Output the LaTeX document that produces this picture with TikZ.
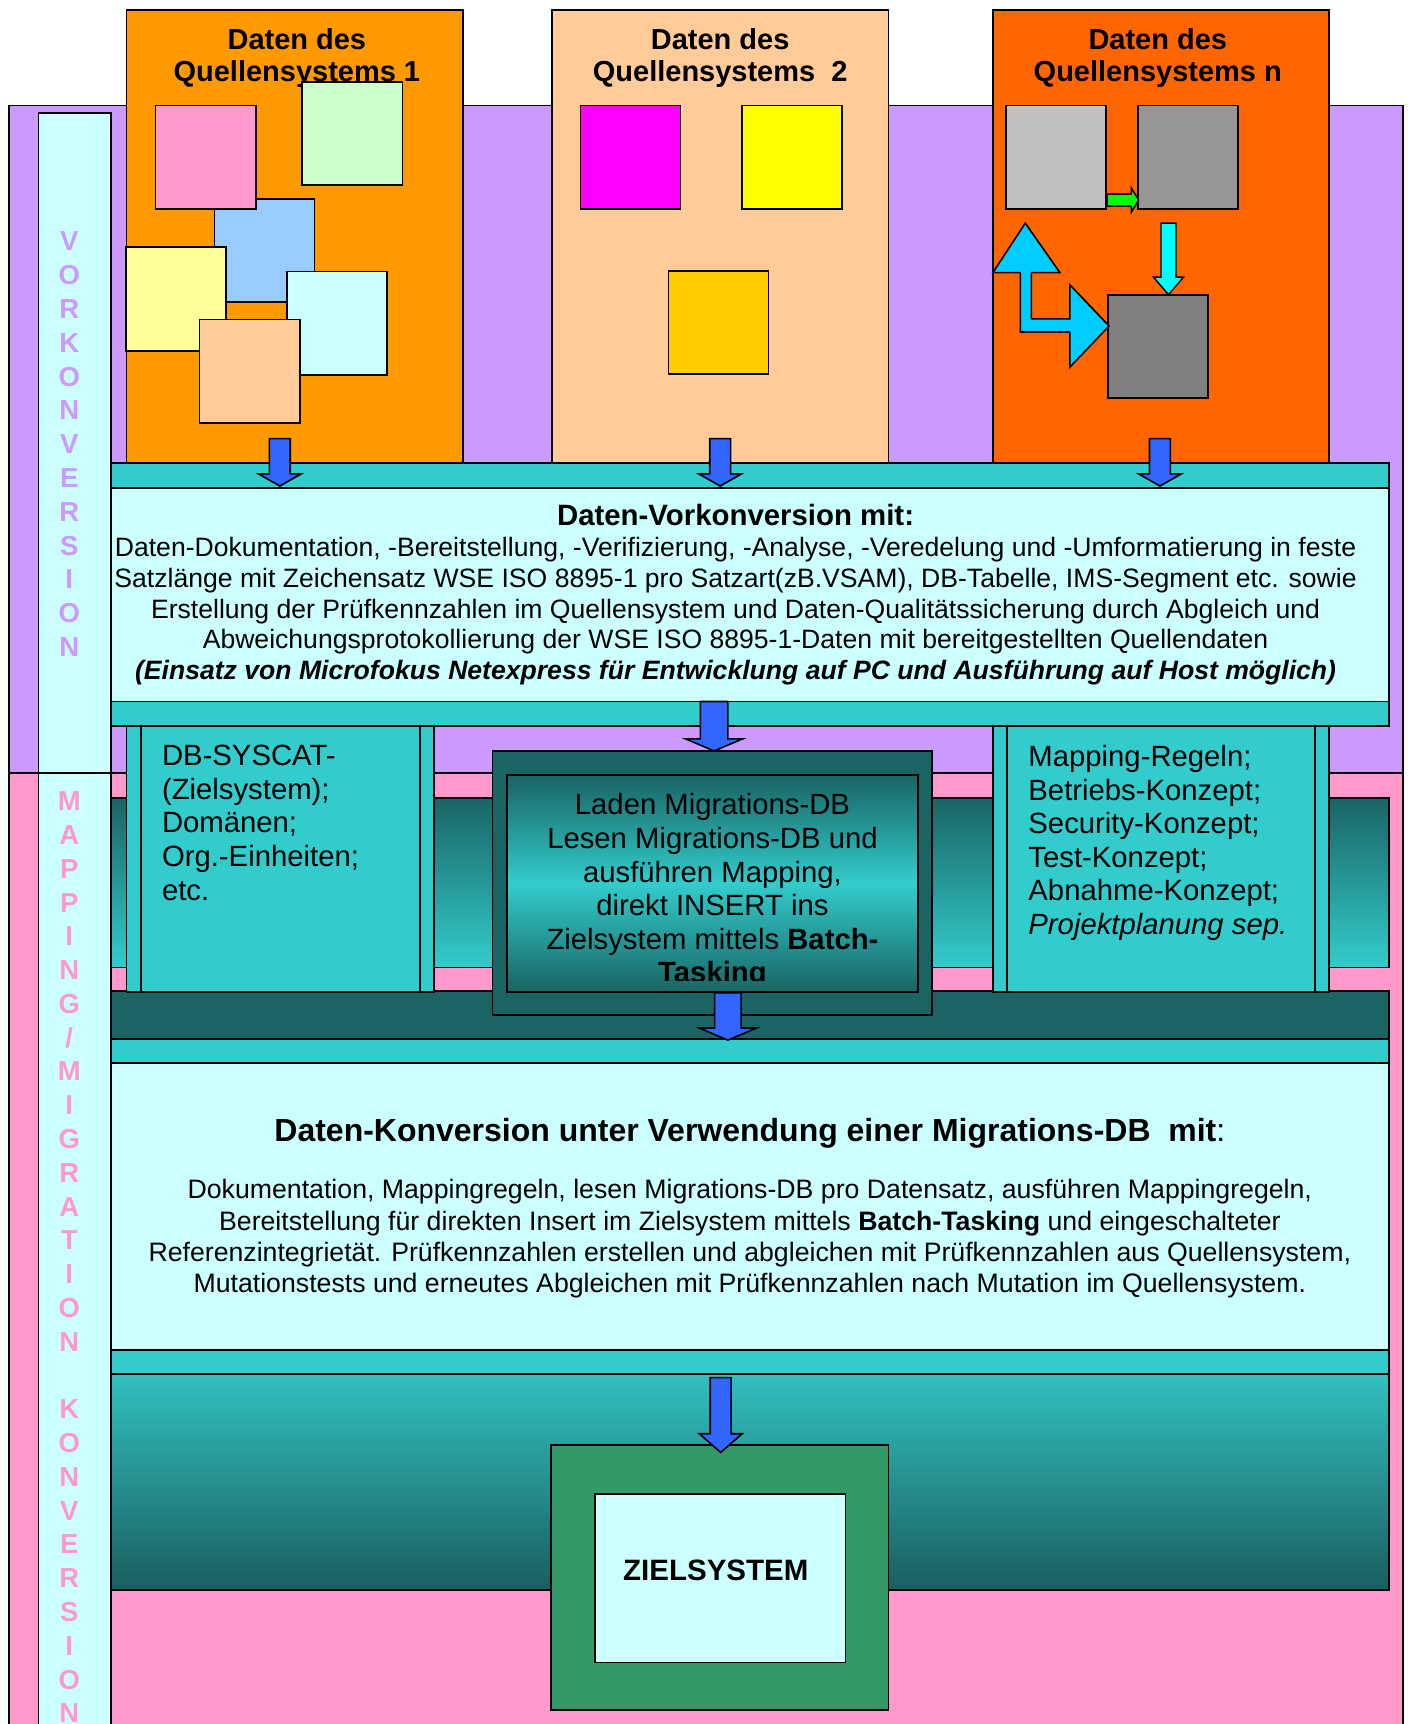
\documentclass[tikz,border=0pt]{standalone}
\usepackage{fontspec}
\setmainfont{Liberation Sans}
\usepackage{tikz}
\usepackage{xcolor}

\definecolor{vorlila}{HTML}{CC99FF}
\definecolor{mappink}{HTML}{FF99CC}
\definecolor{hellcyan}{HTML}{CCFFFF}
\definecolor{quelle1}{HTML}{FF9900}
\definecolor{quelle2}{HTML}{FFCC99}
\definecolor{quelle3}{HTML}{FF6600}
\definecolor{band}{HTML}{33CCCC}
\definecolor{dunkelteal}{HTML}{1A6464}
\definecolor{zielband}{HTML}{32C0C0}
\definecolor{zielbandunten}{HTML}{1A5E5E}
\definecolor{zielgruen}{HTML}{339966}
\definecolor{arrowblue}{HTML}{3366FF}
\definecolor{arrowsky}{HTML}{00CCFF}
\definecolor{arrowcyan}{HTML}{00FFFF}
\definecolor{arrowgreen}{HTML}{00FF00}

\def\spx{0.55pt}

\begin{document}
\begin{tikzpicture}[x=0.55pt,y=-0.55pt]
          \tikzset{
            BoxStyle/.style = { draw, line width=0.9pt, inner sep=0pt, outer sep=0pt },
            Size/.style 2 args = { minimum width=#1*\spx, minimum height=#2*\spx },
            Sq/.style = { BoxStyle, Size={91}{94} },
            TitleStyle/.style = { inner sep=0pt, anchor=north, align=center,
              font=\fontsize{14.5}{16}\selectfont\bfseries },
            BodyStyle/.style = { inner sep=0pt, anchor=north, align=center,
              font=\fontsize{13.3}{15.4}\selectfont },
            ColStyle/.style = { inner sep=0pt, anchor=north west, align=left,
              font=\fontsize{14.65}{16.8}\selectfont },
            LetterStyle/.style = { inner sep=0pt, align=center,
              font=\fontsize{13.75}{16.9}\selectfont\bfseries },
            BlueArrow/.style = { draw, fill=arrowblue, line width=0.8pt },
            pics/DownArrow/.style args = {#1/#2/#3/#4}{code={
                \path[pic actions] (-#1,0) -- (#1,0) -- (#1,#3) -- (#2,#3) -- (0,#4)
                  -- (-#2,#3) -- (-#1,#3) -- cycle; }} }

          \useasboundingbox (0,0) rectangle (1282,1568);

          % hintergrund und seitenleiste
          \node[BoxStyle, fill=vorlila, Size={1268}{607}] (vorbg) at (642,399.5) {};
          \node[BoxStyle, fill=mappink, Size={1268}{877}] (mapbg) at (642,1141.5) {};
          \node[BoxStyle, fill=hellcyan, Size={66}{600}] (vorstrip) at (68,403) {};
          \node[BoxStyle, fill=hellcyan, Size={66}{877}] (mapstrip) at (68,1141.5) {};
          \node[LetterStyle, text=vorlila] (vorletters) at (63,404)
            {V\\O\\R\\K\\O\\N\\V\\E\\R\\S\\I\\O\\N};
          \node[LetterStyle, text=mappink] (mapletters) at (63,1143.5)
            {M\\A\\P\\P\\I\\N\\G\\/\\M\\I\\G\\R\\A\\T\\I\\O\\N\\~\\K\\O\\N\\V\\E\\R\\S\\I\\O\\N};

          % quellensysteme
          \node[BoxStyle, fill=quelle1, Size={306}{412}] (Q1) at (268,215) {};
          \node[BoxStyle, fill=quelle2, Size={306}{412}] (Q2) at (655,215) {};
          \node[BoxStyle, fill=quelle3, Size={306}{412}] (Qn) at (1056,215) {};
          \node[TitleStyle] (Q1title) at (270,25.5) {Daten des\\Quellensystems 1};
          \node[TitleStyle] (Q2title) at (655,25.5) {Daten des\\Quellensystems~ 2};
          \node[TitleStyle] (Qntitle) at (1053,25.5) {Daten des\\Quellensystems n};

          \node[Sq, fill=mappink] (Q1a) at (187,143) {};
          \node[Sq, fill={rgb,255:red,204;green,255;blue,204}] (Q1b) at (320.5,121.5) {};
          \node[Sq, fill={rgb,255:red,153;green,204;blue,255}] (Q1c) at (240.5,228) {};
          \node[Sq, fill=mappink] at (187,143) {};
          \node[Sq, fill={rgb,255:red,255;green,255;blue,153}] (Q1d) at (160,272) {};
          \node[Sq, fill=hellcyan] (Q1e) at (306.5,294) {};
          \node[Sq, fill=quelle2] (Q1f) at (227,337.5) {};

          \node[Sq, fill={rgb,255:red,255;green,0;blue,255}] (Q2a) at (573.5,143) {};
          \node[Sq, fill={rgb,255:red,255;green,255;blue,0}] (Q2b) at (720.5,143) {};
          \node[Sq, fill={rgb,255:red,255;green,204;blue,0}] (Q2c) at (653.5,293.5) {};

          \node[Sq, fill={rgb,255:red,192;green,192;blue,192}] (Qna) at (960.5,143) {};
          \node[Sq, fill={rgb,255:red,150;green,150;blue,150}] (Qnb) at (1080.5,143) {};
          \node[Sq, fill={rgb,255:red,128;green,128;blue,128}] (Qnc) at (1053.5,315) {};
          \draw[fill=arrowgreen, line width=0.7pt] (1007,176.5) -- (1029,176.5) -- (1029,171)
            -- (1035.6,182) -- (1029,193) -- (1029,187.5) -- (1007,187.5) -- cycle;
          \pic[draw, fill=arrowcyan, line width=0.7pt] at (1062.75,203) {DownArrow=6.85/13.75/49/65};
          \draw[fill=arrowsky, line width=0.8pt] (932.5,203) -- (964,248) -- (938,248) -- (938,290)
            -- (973,290) -- (973,259) -- (1008.7,296.5) -- (973,334) -- (973,302) -- (928,302)
            -- (928,248) -- (903,248) -- cycle;

          % mapping-teil
          \node[BoxStyle, top color=dunkelteal, bottom color=band, Size={1162}{154}] (mapband) at (682,803) {};
          \node[BoxStyle, fill=dunkelteal, Size={1162}{44}] (darkband) at (682,923) {};
          \node[BoxStyle, fill=band, Size={280}{242}] (syscat) at (255,781) {};
          \draw[line width=0.9pt] ([xshift=13*\spx]syscat.north west) -- ([xshift=13*\spx]syscat.south west);
          \draw[line width=0.9pt] ([xshift=-13*\spx]syscat.north east) -- ([xshift=-13*\spx]syscat.south east);
          \node[ColStyle] (syscattext) at (147,677.5)
            {DB-SYSCAT-\\(Zielsystem);\\Domänen;\\Org.-Einheiten;\\etc.};
          \node[BoxStyle, fill=band, Size={306}{242}] (regeln) at (1056,781) {};
          \draw[line width=0.9pt] ([xshift=13*\spx]regeln.north west) -- ([xshift=13*\spx]regeln.south west);
          \draw[line width=0.9pt] ([xshift=-13*\spx]regeln.north east) -- ([xshift=-13*\spx]regeln.south east);
          \node[ColStyle] (regelntext) at (935,677.5)
            {Mapping-Regeln;\\Betriebs-Konzept;\\Security-Konzept;\\Test-Konzept;\\Abnahme-Konzept;\\\textit{Projektplanung sep.}};
          \node[BoxStyle, fill=dunkelteal, Size={400}{240}] (laden) at (648,803) {};
          \node[BoxStyle, top color=dunkelteal, bottom color=dunkelteal, middle color=band,
            Size={374}{197}] (ladeninnen) at (648,803.5) {};
          \begin{scope}
            \clip (ladeninnen.north west) rectangle ([yshift=10*\spx]ladeninnen.south east);
            \node[ColStyle, anchor=north, align=center] (ladentext) at (648,721.5)
              {Laden Migrations-DB\\Lesen Migrations-DB und\\ausführen Mapping,\\direkt INSERT ins\\Zielsystem mittels \textbf{Batch-}\\\textbf{Tasking}};
          \end{scope}

          % vorkonversion
          \node[BoxStyle, fill=band, Size={1162}{239}] (vorband) at (682,540.5) {};
          \node[BoxStyle, fill=hellcyan, Size={1162}{194}] (vorbox) at (682,541) {};
          \node[BodyStyle] (vortext) at (669,458.5)
            {{\fontsize{14.7}{16}\selectfont\bfseries Daten-Vorkonversion mit:}\\
             Daten-Dokumentation, -Bereitstellung, -Verifizierung, -Analyse, -Veredelung und -Umformatierung in feste\\
             Satzlänge mit Zeichensatz WSE ISO 8895-1 pro Satzart(zB.VSAM), DB-Tabelle, IMS-Segment etc. sowie\\
             Erstellung der Prüfkennzahlen im Quellensystem und Daten-Qualitätssicherung durch Abgleich und\\
             Abweichungsprotokollierung der WSE ISO 8895-1-Daten mit bereitgestellten Quellendaten\\
             \textbf{\textit{(Einsatz von Microfokus Netexpress für Entwicklung auf PC und Ausführung auf Host möglich)}}};

          % konversion
          \node[BoxStyle, fill=band, Size={1162}{305}] (konband) at (682,1097.5) {};
          \node[BoxStyle, fill=hellcyan, Size={1162}{261}] (konbox) at (682,1097.5) {};
          \node[inner sep=0pt, anchor=north, font=\fontsize{16}{18}\selectfont] (konhead) at (682,1016.6)
            {\textbf{Daten-Konversion unter Verwendung einer Migrations-DB~ mit}:};
          \node[BodyStyle, font=\fontsize{13.35}{15.7}\selectfont] (kontext) at (682,1072.3)
            {Dokumentation, Mappingregeln, lesen Migrations-DB pro Datensatz, ausführen Mappingregeln,\\
             Bereitstellung für direkten Insert im Zielsystem mittels \textbf{Batch-Tasking} und eingeschalteter\\
             Referenzintegrietät. Prüfkennzahlen erstellen und abgleichen mit Prüfkennzahlen aus Quellensystem,\\
             Mutationstests und erneutes Abgleichen mit Prüfkennzahlen nach Mutation im Quellensystem.};

          % zielsystem
          \node[BoxStyle, top color=zielband, bottom color=zielbandunten, Size={1162}{196}] (zielbg) at (682,1348) {};
          \node[BoxStyle, fill=zielgruen, Size={307}{241}] (ziel) at (654.5,1434.5) {};
          \node[BoxStyle, fill=hellcyan, Size={228}{153}] (zielinnen) at (655,1435.5) {};
          \node[font=\fontsize{14.75}{17}\selectfont\bfseries] (zieltext) at (651,1428) {ZIELSYSTEM};

          % \tikzset{BlueArrow/.append style={line width=1pt}}
          \pic[BlueArrow] at (254.5,399) {DownArrow=9.5/19.5/32/43};
          \pic[BlueArrow] at (655,399) {DownArrow=9.5/19.5/32/43};
          \pic[BlueArrow] at (1055,399) {DownArrow=9.5/19.5/32/43};
          \pic[BlueArrow] at (649.5,638) {DownArrow=12.5/26/34/45};
          \pic[BlueArrow] at (662,903) {DownArrow=12/26/32/43};
          \pic[BlueArrow] at (655.5,1253) {DownArrow=9.5/19.5/51/68};
\end{tikzpicture}
\end{document}
